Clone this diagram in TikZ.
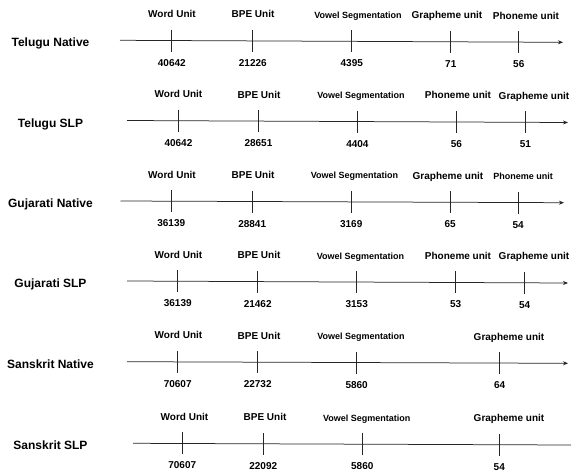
\documentclass[tikz,border=0pt]{standalone}
\usepackage{fontspec}
\setmainfont{Liberation Sans}
\usetikzlibrary{arrows.meta,calc}
\newcommand\axisrow[7]{%
  \coordinate (#1s) at (#3,#4);
  \coordinate (#1e) at (#5,#6);
  \draw[#7] (#1s) -- (#1e);
  \node[rowlabel, anchor=base] (#1lab) at (50.5,{#4+6.5}) {#2};
}
\newcommand\unittick[7]{%
  \coordinate (#1t#2) at ($(#1s)!(#3,0)!(#1e)$);
  \path (#1t#2) ++(0,-11) coordinate (#1u#2);
  \path (#1t#2) ++(0,11) coordinate (#1d#2);
  \draw[tickline] (#1u#2) -- (#1d#2);
  \path (#1t#2) ++(0,-23) coordinate (#1b#2);
  \coordinate (#1p#2) at (#4,0);
  \node[unitlabel=#5, anchor=base] (#1l#2) at (#1b#2 -| #1p#2) {#6};
  \path (#1t#2) ++(0,25.5) coordinate (#1c#2);
  \node[numlabel, anchor=base] (#1n#2) at (#1c#2) {#7};
}
\begin{document}
\begin{tikzpicture}[x=1pt,y=-1pt,
  rowlabel/.style={font=\bfseries\fontsize{12}{14}\selectfont, inner sep=0pt},
  unitlabel/.style={font=\bfseries\fontsize{#1}{#1}\selectfont, inner sep=0pt},
  numlabel/.style={font=\bfseries\fontsize{10}{12}\selectfont, inner sep=0pt},
  axisline/.style={line width=0.75pt, draw=black!85},
  tickline/.style={line width=0.75pt, draw=black!85},
  arrowaxis/.style={axisline, -{Stealth[length=5pt,width=4pt]}}]
\useasboundingbox (0,0) rectangle (571,472);

% Row 1
\axisrow{ra}{Telugu Native}{120}{40.3}{563}{42.3}{arrowaxis}
\unittick{ra}{1}{172}{172}{10}{Word Unit}{40642}
\unittick{ra}{2}{253}{253}{10}{BPE Unit}{21226}
\unittick{ra}{3}{352}{358}{9}{Vowel Segmentation}{4395}
\unittick{ra}{4}{451}{447}{10}{Grapheme unit}{71}
\unittick{ra}{5}{519}{526}{10}{Phoneme unit}{56}

% Row 2
\axisrow{rb}{Telugu SLP}{127}{120.5}{568}{122.5}{arrowaxis}
\unittick{rb}{1}{179}{178.5}{10}{Word Unit}{40642}
\unittick{rb}{2}{259}{259}{10}{BPE Unit}{28651}
\unittick{rb}{3}{358}{361}{9}{Vowel Segmentation}{4404}
\unittick{rb}{4}{457}{458}{10}{Phoneme unit}{56}
\unittick{rb}{5}{526}{534}{10}{Grapheme unit}{51}

% Row 3
\axisrow{rc}{Gujarati Native}{120.5}{201}{564}{202.7}{arrowaxis}
\unittick{rc}{1}{172}{172}{10}{Word Unit}{36139}
\unittick{rc}{2}{253}{253}{10}{BPE Unit}{28841}
\unittick{rc}{3}{352}{354.5}{9}{Vowel Segmentation}{3169}
\unittick{rc}{4}{451}{448}{10}{Grapheme unit}{65}
\unittick{rc}{5}{519}{523}{9}{Phoneme unit}{54}

% Row 4
\axisrow{rd}{Gujarati SLP}{127}{281}{568}{283}{arrowaxis}
\unittick{rd}{1}{179}{178.5}{10}{Word Unit}{36139}
\unittick{rd}{2}{259}{259}{10}{BPE Unit}{21462}
\unittick{rd}{3}{358}{360.5}{9}{Vowel Segmentation}{3153}
\unittick{rd}{4}{457}{458}{10}{Phoneme unit}{53}
\unittick{rd}{5}{526}{534}{10}{Grapheme unit}{54}

% Row 5
\axisrow{re}{Sanskrit Native}{127}{361.7}{568}{363.3}{arrowaxis}
\unittick{re}{1}{179}{178.5}{10}{Word Unit}{70607}
\unittick{re}{2}{259}{259}{10}{BPE Unit}{22732}
\unittick{re}{3}{358}{361}{9}{Vowel Segmentation}{5860}
\unittick{re}{4}{501}{509}{10}{Grapheme unit}{64}

% Row 6
\axisrow{rf}{Sanskrit SLP}{133}{443.3}{571}{445}{axisline}
\unittick{rf}{1}{184}{184.5}{10}{Word Unit}{70607}
\unittick{rf}{2}{265}{265}{10}{BPE Unit}{22092}
\unittick{rf}{3}{364}{366.7}{9}{Vowel Segmentation}{5860}
\unittick{rf}{4}{501}{509}{10}{Grapheme unit}{54}
\end{tikzpicture}
\end{document}
